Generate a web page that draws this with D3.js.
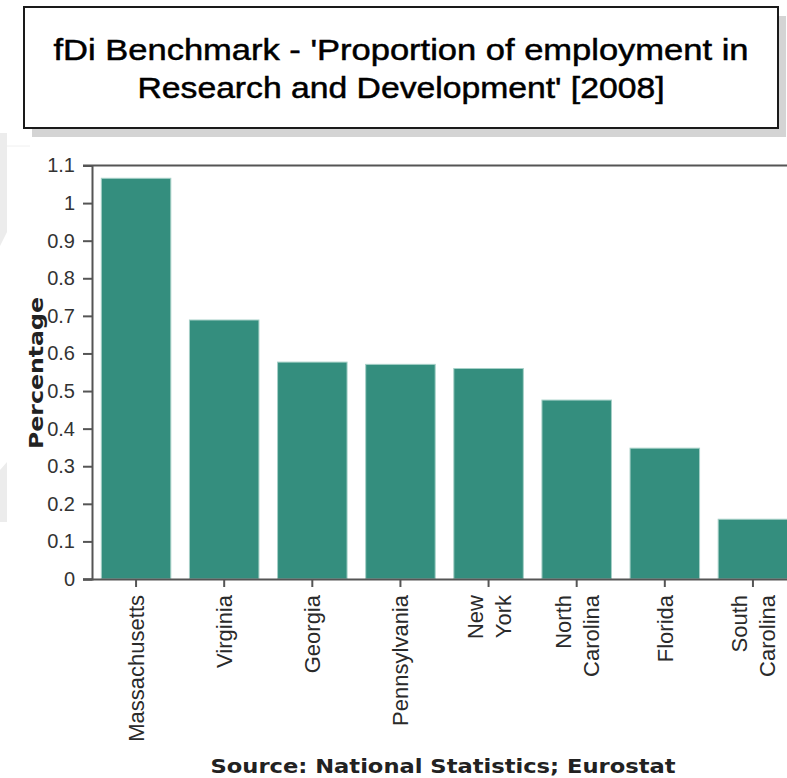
<!DOCTYPE html>
<html>
<head>
<meta charset="utf-8">
<script src="https://cdn.jsdelivr.net/npm/d3@7/dist/d3.min.js"></script>
<style>
  html, body { margin: 0; padding: 0; background: #fff; }
  svg { display: block; }
</style>
</head>
<body>
<svg id="chart" width="787" height="778"></svg>
<script>
// ---- data ----
const titleLines = ["fDi Benchmark - 'Proportion of employment in", "Research and Development' [2008]"];
const categories = [["Massachusetts"], ["Virginia"], ["Georgia"], ["Pennsylvania"], ["New", "York"], ["North", "Carolina"], ["Florida"], ["South", "Carolina"]];
const values = [1.066, 0.689, 0.577, 0.571, 0.560, 0.476, 0.348, 0.159];
const yTicks = [0, 0.1, 0.2, 0.3, 0.4, 0.5, 0.6, 0.7, 0.8, 0.9, 1, 1.1];
const yTitle = "Percentage";
const sourceText = "Source: National Statistics; Eurostat";

const svg = d3.select("#chart");
const W = 787, H = 778;

// background decorations (faint grey shapes at left edge)
svg.append("path").attr("d", "M0,133 L7,133 L7,232 L0,246 Z").attr("fill", "#ececec");
svg.append("path").attr("d", "M0,470 L7,462 L7,522 L0,522 Z").attr("fill", "#ececec");
svg.append("line").attr("x1", 7).attr("x2", 30).attr("y1", 146).attr("y2", 146).attr("stroke", "#f0f0f0");

// ---- title box ----
const box = {x: 24, y: 7, w: 754, h: 121};
svg.append("rect").attr("x", box.x + 8).attr("y", box.y + 9).attr("width", box.w).attr("height", box.h).attr("fill", "#d4d4d4");
svg.append("rect").attr("x", box.x).attr("y", box.y).attr("width", box.w).attr("height", box.h)
  .attr("fill", "#fff").attr("stroke", "#1a1a1a").attr("stroke-width", 2);
const titleWidths = [695, 527];
titleLines.forEach((t, i) => {
  svg.append("text")
    .attr("x", box.x + box.w / 2).attr("y", 60 + i * 38)
    .attr("text-anchor", "middle")
    .attr("font-family", "'Liberation Sans', Arial, sans-serif")
    .attr("font-size", 30)
    .attr("fill", "#000")
    .attr("stroke", "#000")
    .attr("stroke-width", 0.5)
    .attr("textLength", titleWidths[i])
    .attr("lengthAdjust", "spacingAndGlyphs")
    .text(t);
});

// ---- scales ----
const plot = {left: 92, top: 165.5, bottom: 579, right: 797};
const x = d3.scaleBand().domain(d3.range(categories.length)).range([plot.left, plot.right]).paddingInner(0.2).paddingOuter(0.1);
const y = d3.scaleLinear().domain([0, 1.1]).range([plot.bottom, plot.top]);

// bars
svg.append("g").selectAll("rect").data(values).join("rect")
  .attr("x", (d, i) => x(i) + 0.5)
  .attr("y", d => y(d))
  .attr("width", x.bandwidth() - 1)
  .attr("height", d => y(0) - y(d))
  .attr("fill", "#348e7e")
  .attr("stroke", "#a6d0c7")
  .attr("stroke-width", 1);

// top frame line
svg.append("line").attr("x1", plot.left - 9).attr("x2", W).attr("y1", y(1.1)).attr("y2", y(1.1))
  .attr("stroke", "#555").attr("stroke-width", 2);

// y axis
const yAxis = svg.append("g").attr("transform", `translate(${plot.left},0)`)
  .call(d3.axisLeft(y).tickValues(yTicks).tickSize(9).tickPadding(8).tickFormat(d3.format("~g")));
yAxis.select(".domain").attr("stroke", "#555").attr("stroke-width", 2);
yAxis.selectAll(".tick line").attr("stroke", "#555").attr("stroke-width", 2);
yAxis.selectAll(".tick text").attr("font-family", "'Liberation Sans', Arial, sans-serif").attr("font-size", 20).attr("fill", "#333");

// x axis
const xAxis = svg.append("g").attr("transform", `translate(0,${plot.bottom})`)
  .call(d3.axisBottom(x).tickSize(8).tickFormat(""));
xAxis.select(".domain").attr("d", `M${plot.left - 9},0.5H${W}`).attr("stroke", "#555").attr("stroke-width", 2);
xAxis.selectAll(".tick line").attr("stroke", "#555").attr("stroke-width", 2);

// x labels (rotated)
const lineGap = 28;
categories.forEach((lines, i) => {
  const cx = x(i) + x.bandwidth() / 2;
  const n = lines.length;
  lines.forEach((ln, j) => {
    const bx = cx + 8 + (j - (n - 1) / 2) * lineGap;
    svg.append("text")
      .attr("transform", `translate(${bx},595) rotate(-90)`)
      .attr("text-anchor", "end")
      .attr("font-family", "'Liberation Sans', Arial, sans-serif")
      .attr("font-size", 22)
      .attr("fill", "#2a2a2a")
      .text(ln);
  });
});

// y title
svg.append("text")
  .attr("transform", `translate(43,373) rotate(-90)`)
  .attr("text-anchor", "middle")
  .attr("font-family", "'DejaVu Sans', Verdana, sans-serif")
  .attr("font-weight", "bold")
  .attr("font-size", 19)
  .attr("fill", "#222")
  .attr("textLength", 152)
  .attr("lengthAdjust", "spacingAndGlyphs")
  .text(yTitle);

// source
svg.append("text")
  .attr("x", 443).attr("y", 773)
  .attr("text-anchor", "middle")
  .attr("font-family", "'DejaVu Sans', Verdana, sans-serif")
  .attr("font-weight", "bold")
  .attr("font-size", 19)
  .attr("fill", "#222")
  .attr("textLength", 465)
  .attr("lengthAdjust", "spacingAndGlyphs")
  .text(sourceText);
</script>
</body>
</html>
